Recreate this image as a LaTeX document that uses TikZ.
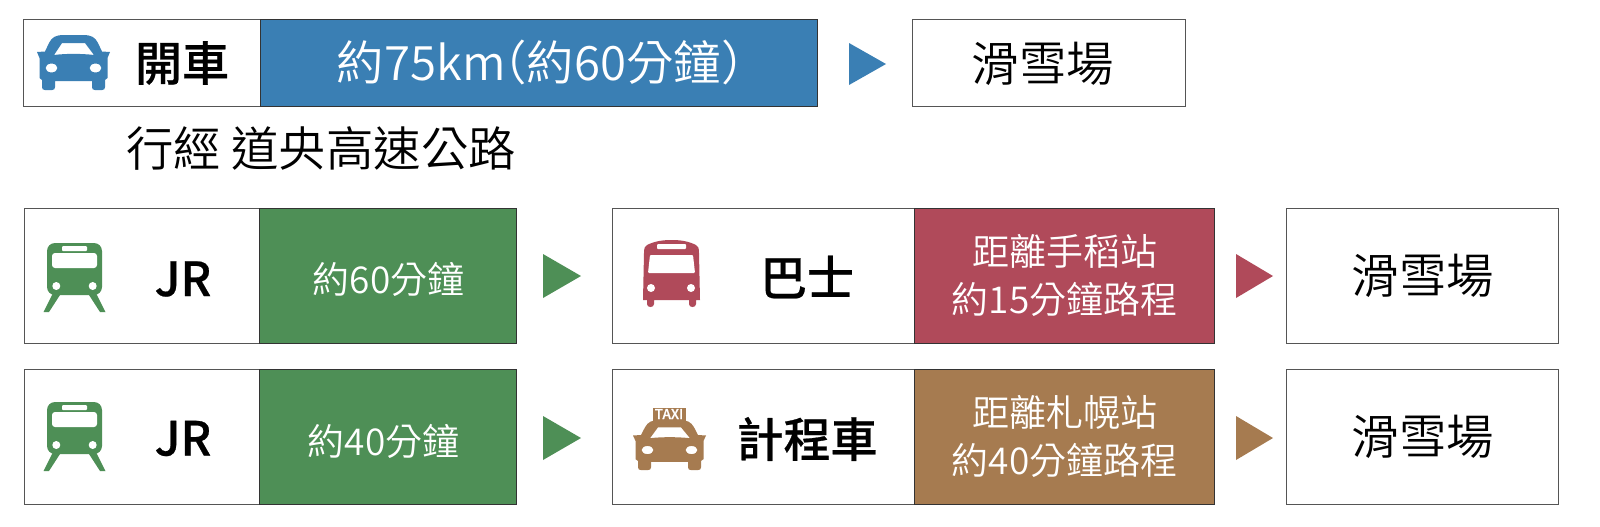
\documentclass[tikz,border=0pt]{standalone}
\usepackage{fontspec}
\setmainfont{Noto Sans CJK TC DemiLight}[BoldFont=Noto Sans CJK TC Medium,BoldFeatures={FakeBold=0.5}]
\usetikzlibrary{positioning}

\definecolor{carblue}{HTML}{3A7FB4}
\definecolor{jrgreen}{HTML}{4E8F56}
\definecolor{busred}{HTML}{B04A5A}
\definecolor{taxibrown}{HTML}{A67B50}
\definecolor{edgegray}{HTML}{555555}

\tikzset{
  box/.style={draw=edgegray, line width=0.45pt, fill=white, inner sep=0pt},
  band/.style={draw=edgegray!60!black, line width=0.35pt, text=white, align=center, inner sep=0pt, font=\fontsize{18.5}{24}\selectfont},
  bandlabel/.style={text=white, inner sep=0pt, font=\fontsize{18.5}{24}\selectfont},
  biglabel/.style={font=\fontsize{23.7}{28}\selectfont, inner sep=0pt},
  boldlabel/.style={font=\fontsize{23.5}{28}\selectfont\bfseries, inner sep=0pt}
}

% icons: top left corner, colour
\newcommand{\caricon}[3][1]{
\begin{scope}[shift={(#2)}, yscale=#1]
\fill[#3, even odd rule] (2.5,23) -- (0,17) -- (8,16.5) -- (12,8) .. controls (15,2) and (19,0) .. (27,0) -- (46,0) .. controls (54,0) and (58,2) .. (61,8) -- (65,16.5) -- (73,17) -- (70.5,23)
  -- (70.5,43) -- (68,45) -- (68,52) .. controls (68,54) and (67,55) .. (65,55) -- (58,55) .. controls (56,55) and (55,54) .. (55,52) -- (55,46) -- (18,46) -- (18,52) .. controls (18,54) and (17,55) .. (15,55) -- (8,55) .. controls (6,55) and (5,54) .. (5,52) -- (5,45) -- (2.5,43) -- cycle
  (17,20) -- (25,8) -- (48,8) -- (57,20) .. controls (45,18.5) and (28,18.5) .. (17,20) -- cycle
  (14.5,33) ellipse [x radius=6, y radius=4.5]
  (58.5,33) ellipse [x radius=6, y radius=4.5];
\end{scope}
}
\newcommand{\trainicon}[2]{
\begin{scope}[shift={(#1)}]
\fill[#2] (-3.5,69) -- (2,69) -- (13,52) -- (6,50) -- cycle;
\fill[#2] (58.5,69) -- (53,69) -- (42,52) -- (49,50) -- cycle;
\fill[#2, rounded corners=4pt] (0,0) rectangle (55,52);
\fill[white, rounded corners=0.5pt] (15,3) rectangle (40,8);
\fill[white, rounded corners=1.5pt] (5,10) rectangle (50,25);
\fill[white] (9.3,43) circle (4) (45.7,43) circle (4);
\end{scope}
}
\newcommand{\busicon}[2]{
\begin{scope}[shift={(#1)}]
\fill[#2] (0,60) -- (1,13) .. controls (1,8) and (2,6) .. (4,5) .. controls (12,1) and (20,0) .. (28.5,0) .. controls (37,0) and (45,1) .. (53,5) .. controls (55,6) and (56,8) .. (56,13) -- (57,60) -- (53,60) -- (53,64) .. controls (53,68) and (46,68) .. (46,64) -- (46,60) -- (11,60) -- (11,64) .. controls (11,68) and (4,68) .. (4,64) -- (4,60) -- cycle;
\fill[white, rounded corners=0.5pt] (14,4) rectangle (43,9);
\fill[white, rounded corners=0.5pt] (7,15) -- (50,15) -- (52,33) -- (5,33) -- cycle;
\fill[white] (8,48) circle (4) (48,48) circle (4);
\end{scope}
}

\begin{document}
\begin{tikzpicture}[x=0.5pt, y=-0.5pt]
\useasboundingbox (0,0) rectangle (1600,526);

% first row
\node[box, minimum width=118.5pt, minimum height=43.5pt] (carbox) at (141.5,62.5) {};
\node[band, fill=carblue, minimum width=278.5pt, minimum height=43.5pt, font=\fontsize{23.7}{28}\selectfont] (cartime) at (538.5,62.5) {約75km\kern-.55em（約60分鐘）\kern-.6em};
\node[box, minimum width=136.5pt, minimum height=43.5pt] (carend) at (1048.5,62.5) {};
\node[biglabel] (carendlabel) at (1043,63.5) {滑雪場};
\node[boldlabel] (carname) at (182,63) {開車};
\caricon{37,35}{carblue}
\fill[carblue] (849,43) -- (886,64) -- (849,85) -- cycle;
\node[biglabel] (route) at (321,148) {行經 道央高速公路};

% second row
\node[box, minimum width=117.5pt, minimum height=67.5pt] (jra) at (142,275.5) {};
\node[band, fill=jrgreen, minimum width=128.5pt, minimum height=67.5pt] (jratime) at (387.5,275.5) {};
\node[bandlabel] (jratimelabel) at (388.5,279.5) {約60分鐘};
\node[boldlabel] (jraname) at (183,279) {JR};
\trainicon{47,243}{jrgreen}
\fill[jrgreen] (543,254) -- (581,276) -- (543,298) -- cycle;
\node[box, minimum width=151pt, minimum height=67.5pt] (bus) at (763,275.5) {};
\node[band, fill=busred, minimum width=150pt, minimum height=67.5pt] (bustime) at (1064.5,275.5) {距離手稻站\\約15分鐘路程};
\node[boldlabel] (busname) at (807,277) {巴士};
\busicon{643,240}{busred}
\fill[busred] (1236,254) -- (1273,276) -- (1236,298) -- cycle;
\node[box, minimum width=136pt, minimum height=67.5pt] (busend) at (1422,275.5) {};
\node[biglabel] (busendlabel) at (1423,276) {滑雪場};

% third row
\node[box, minimum width=117.5pt, minimum height=67.5pt] (jrb) at (142,436.5) {};
\node[band, fill=jrgreen, minimum width=128.5pt, minimum height=67.5pt] (jrbtime) at (387.5,436.5) {};
\node[bandlabel] (jrbtimelabel) at (383.5,441) {約40分鐘};
\node[boldlabel] (jrbname) at (183,438.5) {JR};
\trainicon{47,402}{jrgreen}
\fill[jrgreen] (543,416) -- (581,438) -- (543,460) -- cycle;
\node[box, minimum width=151pt, minimum height=67.5pt] (taxi) at (763,436.5) {};
\node[band, fill=taxibrown, minimum width=150pt, minimum height=67.5pt] (taxitime) at (1064.5,436.5) {距離札幌站\\約40分鐘路程};
\node[boldlabel] (taxiname) at (807,439) {計程車};
\caricon[0.91]{633,420}{taxibrown}
\node[fill=taxibrown, text=white, inner sep=0pt, minimum width=16.5pt, minimum height=6.5pt, font=\fontsize{6.8}{7}\selectfont\bfseries] (taxisign) at (669,414) {TAXI};
\fill[taxibrown] (1236,416) -- (1273,438) -- (1236,460) -- cycle;
\node[box, minimum width=136pt, minimum height=67.5pt] (taxiend) at (1422,436.5) {};
\node[biglabel] (taxiendlabel) at (1423,437) {滑雪場};

\end{tikzpicture}
\end{document}
